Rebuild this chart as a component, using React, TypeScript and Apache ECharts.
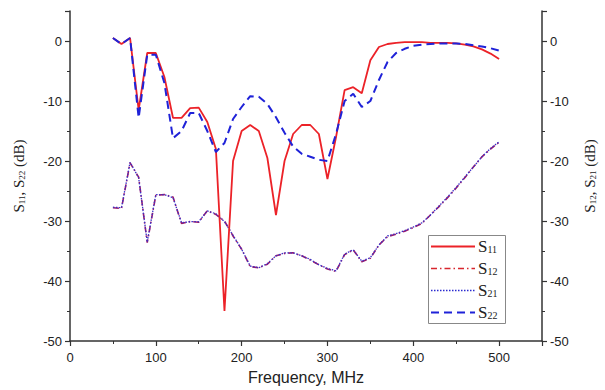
import React, { useEffect, useRef } from "react";
import * as echarts from "echarts";

const freq = [50, 60, 70, 80, 90, 100, 110, 120, 130, 140, 150, 160, 170, 180, 190, 200, 210, 220, 230, 240, 250, 260, 270, 280, 290, 300, 310, 320, 330, 340, 350, 360, 370, 380, 390, 400, 410, 420, 430, 440, 450, 460, 470, 480, 490, 500];

const s11 = [0.5, -0.5, 0.5, -11.5, -2, -2, -6, -12.8, -12.8, -11.2, -11.1, -13.5, -18, -45, -20, -15, -14, -15, -19.5, -29, -20, -15.5, -14, -14, -15.5, -23, -16, -8.2, -7.7, -8.7, -3.2, -1, -0.5, -0.3, -0.2, -0.2, -0.2, -0.3, -0.3, -0.3, -0.4, -0.6, -0.9, -1.4, -2.1, -3.0];

const s22 = [0.5, -0.5, 0.5, -12.8, -2.3, -2.3, -7, -16.2, -15, -12, -12, -15, -18.5, -17, -13, -11, -9.2, -9.3, -10.5, -12.7, -15.3, -17.6, -18.8, -19.3, -19.8, -20, -15.5, -10, -8.8, -11, -10, -6.5, -3.5, -2, -1.3, -0.8, -0.6, -0.5, -0.4, -0.4, -0.4, -0.5, -0.7, -0.9, -1.2, -1.6];

const s12 = [-27.8, -27.9, -20.3, -22.7, -33.6, -25.7, -25.6, -26, -30.4, -30.1, -30.2, -28.3, -28.9, -30, -32.5, -34.7, -37.6, -37.8, -37.2, -35.8, -35.4, -35.3, -35.8, -36.5, -37.3, -38, -38.4, -35.6, -34.8, -36.8, -36.2, -34, -32.6, -32.2, -31.7, -31.1, -30.4, -29, -27.6, -26.1, -24.5, -22.8, -21, -19.3, -18, -16.9];

const s21 = [-27.7, -27.8, -20.2, -22.8, -33.5, -25.6, -25.6, -26.1, -30.3, -30.1, -30.1, -28.3, -28.8, -30.1, -32.4, -34.7, -37.5, -37.8, -37.1, -35.8, -35.3, -35.3, -35.8, -36.4, -37.3, -37.9, -38.3, -35.5, -34.8, -36.7, -36.1, -34, -32.5, -32.1, -31.6, -31, -30.3, -29, -27.5, -26, -24.4, -22.7, -21, -19.3, -17.9, -16.8];

const pairs = (vals: number[]) => freq.map((f, i) => [f, vals[i]]);

const SERIF = "'Liberation Serif', 'Times New Roman', serif";
const SANS = "'Liberation Sans', Arial, sans-serif";

const richName = {
  s: { fontFamily: SERIF, fontSize: 15, color: "#222" },
  sub: { fontFamily: SERIF, fontSize: 9, color: "#222", padding: [6, 0, 0, 0] },
};

const legendRich = {
  s: { fontFamily: SERIF, fontSize: 17, color: "#222", lineHeight: 18 },
  sub: { fontFamily: SERIF, fontSize: 10, color: "#222", padding: [5, 0, 0, 0], lineHeight: 18 },
};

export default function App() {
  const ref = useRef<HTMLDivElement>(null);
  useEffect(() => {
    if (!ref.current) return;
    const chart = echarts.init(ref.current, undefined, { renderer: "svg" });
    const yAxisBase = {
      type: "value" as const,
      min: -50,
      max: 5,
      interval: 10,
      splitLine: { show: false },
      axisLine: { show: true, lineStyle: { color: "#333", width: 1.5 } },
      axisTick: { show: true, length: 5, lineStyle: { color: "#333", width: 1.2 } },
      minorTick: { show: true, splitNumber: 2, length: 3, lineStyle: { color: "#333", width: 1 } },
      axisLabel: { showMaxLabel: false, fontFamily: SANS, fontSize: 13, color: "#222", margin: 8 },
      nameLocation: "middle" as const,
      nameRotate: 90,
      nameGap: 44,
    };
    chart.setOption({
      animation: false,
      backgroundColor: "#fff",
      grid: { left: 70, right: 60, top: 11, bottom: 46 },
      graphic: [
        {
          type: "rect",
          left: 428,
          top: 235,
          shape: { width: 77, height: 88 },
          style: { fill: "#fff", stroke: "#888", lineWidth: 1 },
          z: 50,
        },
      ],
      xAxis: {
        type: "value",
        min: 0,
        max: 550,
        interval: 100,
        splitLine: { show: false },
        axisLine: { onZero: false, lineStyle: { color: "#333", width: 1.5 } },
        axisTick: { show: true, length: 5, lineStyle: { color: "#333", width: 1.2 } },
        minorTick: { show: true, splitNumber: 2, length: 3, lineStyle: { color: "#333", width: 1 } },
        axisLabel: { showMaxLabel: false, fontFamily: SANS, fontSize: 13, color: "#222", margin: 10 },
        name: "Frequency, MHz",
        nameLocation: "middle",
        nameGap: 28,
        nameTextStyle: { fontFamily: SANS, fontSize: 16, color: "#222" },
      },
      yAxis: [
        {
          ...yAxisBase,
          position: "left",
          name: "{s|S}{sub|11}{s|, S}{sub|22}{s| (dB)}",
          nameTextStyle: { rich: richName },
        },
        {
          ...yAxisBase,
          position: "right",
          name: "{s|S}{sub|12}{s|, S}{sub|21}{s| (dB)}",
          nameTextStyle: { rich: richName },
          nameGap: 40,
        },
      ],
      legend: {
        orient: "vertical",
        left: 428,
        top: 238,
        padding: [0, 0, 0, 2],
        z: 60,
        itemWidth: 44,
        itemHeight: 12,
        itemGap: 5,
        itemStyle: { opacity: 0 },
        data: [
          { name: "S11" },
          { name: "S12", lineStyle: { color: "#d8262e", type: [6, 3, 1.5, 3], width: 1.6 } },
          { name: "S21", lineStyle: { color: "#2a2ad0", type: [1.5, 1.5], width: 1.4 } },
          { name: "S22" },
        ],
        formatter: (name: string) => `{s|S}{sub|${name.slice(1)}}`,
        textStyle: { rich: legendRich, padding: [0, 0, 0, -2] },
      },
      series: [
        {
          name: "S11",
          type: "line",
          data: pairs(s11),
          symbol: "none",
          yAxisIndex: 0,
          color: "#ec2228",
          lineStyle: { color: "#ec2228", width: 1.8 },
          z: 3,
        },
        {
          name: "S12",
          type: "line",
          data: pairs(s12),
          symbol: "none",
          yAxisIndex: 1,
          color: "#b0205a",
          lineStyle: { color: "#9a1a6a", width: 1.6, type: [6, 3, 1.5, 3] },
          z: 2,
        },
        {
          name: "S21",
          type: "line",
          data: pairs(s21),
          symbol: "none",
          yAxisIndex: 1,
          color: "#2a2ad0",
          lineStyle: { color: "#3a30c8", width: 1.3, type: [1.5, 1.5] },
          z: 2,
        },
        {
          name: "S22",
          type: "line",
          data: pairs(s22),
          symbol: "none",
          yAxisIndex: 0,
          color: "#1f22d8",
          lineStyle: { color: "#1f22d8", width: 2, type: [8, 5] },
          z: 4,
        },
      ],
    });
    return () => chart.dispose();
  }, []);
  return <div ref={ref} style={{ width: 605, height: 390, position: "absolute", left: 0, top: 0 }} />;
}
